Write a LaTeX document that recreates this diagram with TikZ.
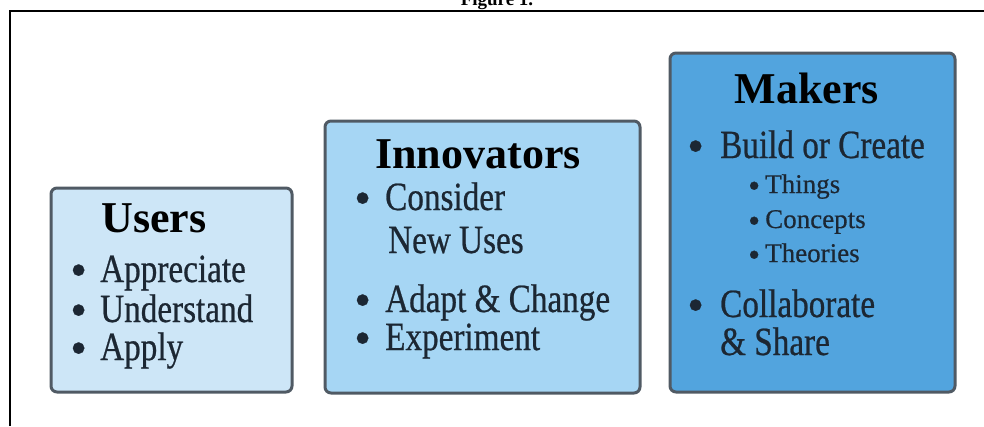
\documentclass[tikz,border=0pt]{standalone}
\usepackage{fontspec}
\setmainfont{Liberation Serif}
\newfontfamily\itemfont[FakeStretch=0.83,FakeBold=0.6]{Liberation Serif}
\newfontfamily\subfont[FakeBold=0.5]{Liberation Serif}
\definecolor{frameblack}{HTML}{000000}
\definecolor{boxline}{HTML}{505A64}
\definecolor{usersfill}{HTML}{CDE6F7}
\definecolor{innovfill}{HTML}{A6D6F4}
\definecolor{makersfill}{HTML}{52A4DE}
\definecolor{itemtext}{HTML}{1C2733}
\tikzset{
  box/.style={draw=boxline, line width=3pt, rounded corners=6pt, inner sep=0pt, anchor=north west},
  titletext/.style={inner sep=0pt, anchor=base, text=black, font=\fontsize{44}{48}\selectfont\bfseries},
  itemline/.style={inner sep=0pt, anchor=base west, text=itemtext, font=\itemfont\fontsize{40}{44}\selectfont},
  bulletmark/.style={inner sep=0pt, anchor=base west, text=itemtext, font=\subfont\fontsize{48}{50}\selectfont},
  subline/.style={inner sep=0pt, anchor=base west, text=itemtext, font=\subfont\fontsize{27}{30}\selectfont},
  subbullet/.style={inner sep=0pt, anchor=base west, text=itemtext, font=\subfont\fontsize{34}{36}\selectfont},
  caption/.style={inner sep=0pt, anchor=base, font=\fontsize{19}{22}\selectfont\bfseries}
}
\begin{document}
\begin{tikzpicture}[x=1pt,y=-1pt]
\useasboundingbox (0,0) rectangle (984,426);
\clip (0,0) rectangle (984,426);
% frame and caption
\node[caption] (cap) at (497,5) {Figure 1.};
\coordinate (fl) at (10,426);
\coordinate (fc) at (10,11);
\coordinate (fr) at (990,11);
\draw[line width=2pt, frameblack] (fl) -- (fc) -- (fr);
% boxes
\node[box, fill=usersfill, minimum width=241pt, minimum height=204pt] (users) at (49.5,186.5) {};
\node[box, fill=innovfill, minimum width=315pt, minimum height=272pt] (innov) at (323.5,119.5) {};
\node[box, fill=makersfill, minimum width=285pt, minimum height=339pt] (makers) at (668.5,51.5) {};
% Users
\node[titletext] (ut) at (154,232) {Users};
\node[bulletmark] (ub1) at (70,286) {•};
\node[itemline] (u1) at (100,282) {Appreciate};
\node[bulletmark] (ub2) at (70,326) {•};
\node[itemline] (u2) at (100,322) {Understand};
\node[bulletmark] (ub3) at (70,364) {•};
\node[itemline] (u3) at (100,360) {Apply};
% Innovators
\node[titletext] (it) at (478,168) {Innovators};
\node[bulletmark] (ib1) at (354,214) {•};
\node[itemline] (i1) at (385,210) {Consider};
\node[itemline] (i1b) at (388,253) {New Uses};
\node[bulletmark] (ib2) at (354,316) {•};
\node[itemline] (i2) at (385,312) {Adapt \& Change};
\node[bulletmark] (ib3) at (354,354) {•};
\node[itemline] (i3) at (385,350) {Experiment};
% Makers
\node[titletext] (mt) at (807,103) {Makers};
\node[bulletmark] (mb1) at (687,162) {•};
\node[itemline] (m1) at (720,158) {Build or Create};
\node[subbullet] (ms1) at (748,197) {•};
\node[subline] (m11) at (765,193) {Things};
\node[subbullet] (ms2) at (748,232) {•};
\node[subline] (m12) at (765,228) {Concepts};
\node[subbullet] (ms3) at (748,266) {•};
\node[subline] (m13) at (765,262) {Theories};
\node[bulletmark] (mb2) at (687,321) {•};
\node[itemline] (m2) at (720,317) {Collaborate};
\node[itemline] (m2b) at (720,355) {\& Share};
\end{tikzpicture}
\end{document}
